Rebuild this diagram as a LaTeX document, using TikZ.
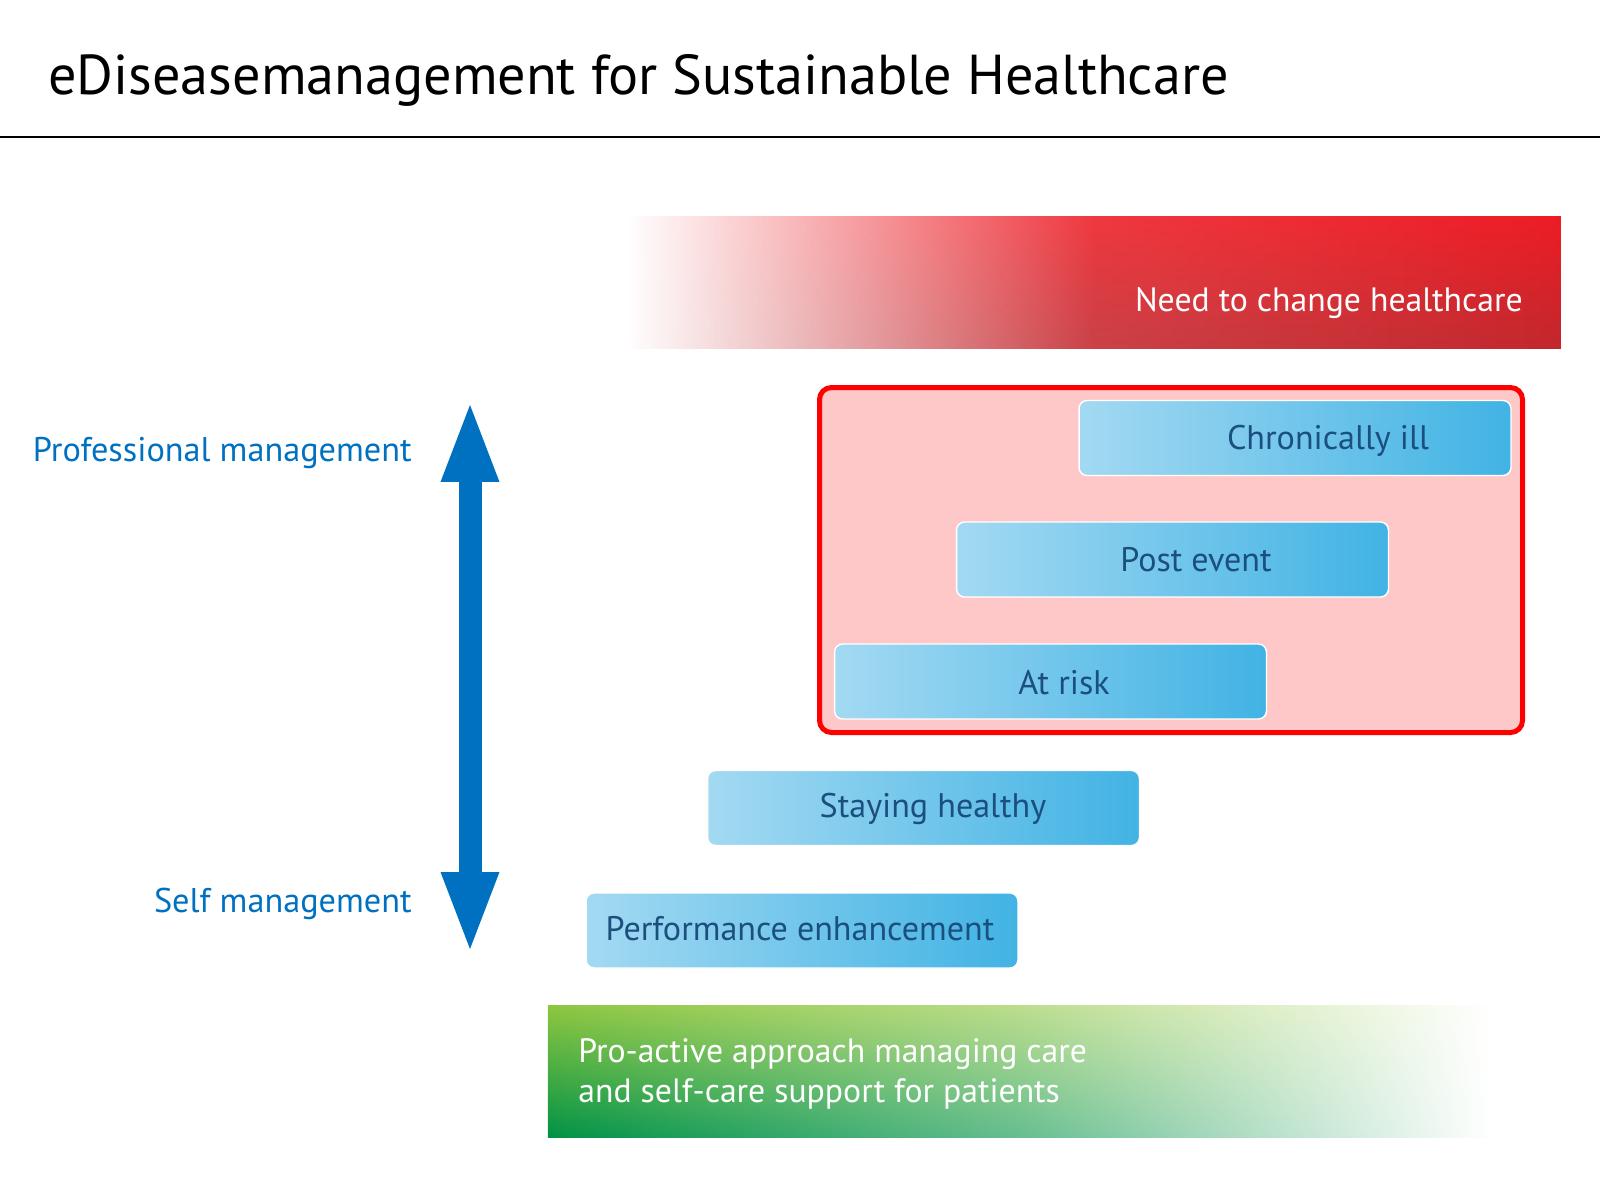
\documentclass[tikz,border=0pt]{standalone}
\usepackage{fontspec}
\setmainfont{PT Sans}
\usepackage{tikz}
\usepackage{xcolor}
\usetikzlibrary{positioning, arrows.meta, fadings}

\definecolor{redtop}{HTML}{ED1C24}
\definecolor{redbot}{HTML}{C1272D}
\definecolor{greentop}{HTML}{8DC63F}
\definecolor{greenbot}{HTML}{009245}
\definecolor{riskpink}{HTML}{FFC8C8}
\definecolor{riskline}{HTML}{FF0000}
\definecolor{boxlight}{HTML}{A3D9F2}
\definecolor{boxdark}{HTML}{41B3E4}
\definecolor{boxtext}{HTML}{1B4F7E}
\definecolor{arrowblue}{HTML}{0070C0}

\tikzfading[name=redfade, left color=transparent!100, right color=transparent!0, middle color=transparent!12]
\tikzfading[name=greenfade, left color=transparent!0, right color=transparent!100, middle color=transparent!40]

\tikzset{
  stagebox/.style={draw=white, line width=0.8pt, rounded corners=0.16cm,
    left color=boxlight, right color=boxdark,
    minimum width=8.64cm, minimum height=1.5cm, inner sep=0pt},
  stagetext/.style={anchor=base, text=boxtext, inner sep=0pt,
    font=\fontsize{19.4}{23}\selectfont},
  sidetext/.style={anchor=base east, text=arrowblue, inner sep=0pt,
    font=\fontsize{19.5}{23}\selectfont},
  bandtext/.style={text=white, inner sep=0pt,
    font=\fontsize{19.2}{23}\selectfont}
}

\begin{document}
\begin{tikzpicture}[x=0.02cm,y=-0.02cm]
\useasboundingbox (0,0) rectangle (1600,1200);

% title and rule
\node[anchor=base west, inner sep=0pt, font=\fontsize{32}{38}\selectfont] (title) at (48,94)
{eDiseasemanagement for Sustainable Healthcare};
\draw[line width=0.03cm] (0,137) -- (1600,137);

% bands
\shade[top color=redtop, bottom color=redbot, path fading=redfade] (628,217) rectangle (1561,349);
\node[bandtext, anchor=base east] (need) at (1523,311) {Need to change healthcare};
\shade[top color=greentop, bottom color=greenbot, path fading=greenfade] (548,1006) rectangle (1490,1137);
\node[bandtext, anchor=base west] (proactive) at (578,1062) {Pro-active approach managing care};
\node[bandtext, anchor=base west] (selfcare) at (578,1102) {and self-care support for patients};

% risk area
\draw[riskline, fill=riskpink, line width=0.1cm, rounded corners=0.24cm] (819.5,387.5) rectangle (1522.5,732.5);

% stages
\node[stagebox] (chronic) at (1295,438) {};
\node[stagebox] (post) at (1172.5,559.5) {};
\node[stagebox] (risk) at (1050.5,681.5) {};
\node[stagebox] (healthy) at (923.5,808) {};
\node[stagebox] (perform) at (802,930.5) {};
\node[stagetext] (chronicl) at (1328,449) {Chronically ill};
\node[stagetext] (postl) at (1196,571.5) {Post event};
\node[stagetext] (riskl) at (1064,694) {At risk};
\node[stagetext] (healthyl) at (933,817) {Staying healthy};
\node[stagetext] (performl) at (800,940) {Performance enhancement};

% management axis
\coordinate (protip) at (470,405);
\coordinate (selftip) at (470,949);
\draw[arrowblue, line width=0.46cm,
  {Triangle[width=1.18cm,length=1.54cm,line width=0pt]}-{Triangle[width=1.18cm,length=1.54cm,line width=0pt]}]
  (protip) -- (selftip);
\node[sidetext] (prof) at (412,461) {Professional management};
\node[sidetext] (self) at (412,912) {Self management};
\end{tikzpicture}
\end{document}
